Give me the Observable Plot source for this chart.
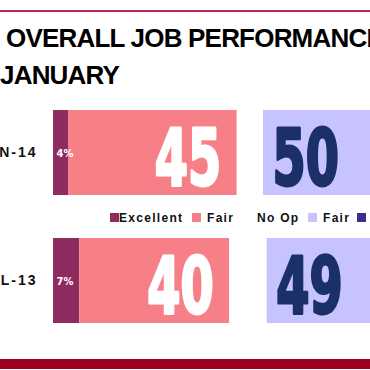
<!DOCTYPE html>
<html><head><meta charset="utf-8">
<script src="https://cdn.jsdelivr.net/npm/d3@7"></script>
<script src="https://cdn.jsdelivr.net/npm/@observablehq/plot@0.6"></script>
<style>
html,body{margin:0;padding:0;background:#fff;overflow:hidden;}
body{width:370px;height:370px;position:relative;font-family:"Liberation Sans",Arial,sans-serif;}
#header{position:relative;height:95px;}
#topline{position:absolute;left:0;top:10px;width:370px;height:2px;background:#b52c4a;}
.title{position:absolute;white-space:nowrap;font-weight:bold;font-size:26px;line-height:26px;letter-spacing:-0.8px;color:#000;}
#legend{position:absolute;left:0;top:0;width:370px;height:370px;pointer-events:none;}
.sw{position:absolute;top:213px;width:9px;height:9px;}
.lt{position:absolute;top:212px;white-space:nowrap;font-weight:bold;font-size:12px;letter-spacing:1.3px;line-height:12px;color:#111;}
#bottombar{position:absolute;left:0;top:359px;width:370px;height:10px;background:#a00020;}
#chart svg [aria-label="y-axis tick label"] text{letter-spacing:2px;}
</style></head><body>
<div id="header">
  <div id="topline"></div>
  <div class="title" style="left:6px;top:25px;">OVERALL JOB PERFORMANCE</div>
  <div class="title" style="left:0px;top:62px;">JANUARY</div>
</div>
<div id="chart"></div>
<div id="legend"></div>
<div id="bottombar"></div>
<script>
// ---- data ----
const periods = ["N-14", "L-13"];
const excellent = [4, 7];
const good = [45, 40];        // pink segment (labelled "Fair" in the legend)
const noOpinion = [7, 10];    // blank gap, estimated
const fair = [50, 49];        // lavender segment
const segmentKeys = ["Excellent", "Good", "No Op", "Fair"];
const segmentColors = ["#8e2b5f", "#f77f87", "#ffffff", "#c6c3ff"];
const legendLabels = ["Excellent", "Fair", "No Op", "Fair", ""];
const legendColors = ["#8e2b5f", "#f77f87", null, "#c6c3ff", "#3b2e8e"];

// ---- build stacked segments ----
const segs = [];
periods.forEach((p, i) => {
  const vals = [excellent[i], good[i], noOpinion[i], fair[i]];
  let acc = 0;
  vals.forEach((v, j) => {
    segs.push({period: p, key: segmentKeys[j], value: v, x1: acc, x2: acc + v});
    acc += v;
  });
});

const bigFont = "'Liberation Sans Narrow','DejaVu Sans Condensed','Arial Narrow',sans-serif";

const chart = Plot.plot({
  width: 428,
  height: 250,
  marginLeft: 53,
  marginRight: 0,
  marginTop: 14,
  marginBottom: 22,
  style: {maxWidth: "none", overflow: "hidden", display: "block", background: "white", fontFamily: "'Liberation Sans',Arial,sans-serif"},
  x: {domain: [0, 100], axis: null},
  y: {domain: periods, paddingInner: 0.336, paddingOuter: 0, axis: null},
  color: {domain: segmentKeys, range: segmentColors},
  marks: [
    Plot.barX(segs, {x1: "x1", x2: "x2", y: "period", fill: "key"}),
    Plot.axisY({tickSize: 0, tickPadding: 16, fontSize: 14, fontWeight: "bold", fill: "#111", label: null}),
    Plot.text(segs.filter(d => d.key === "Excellent"), {
      x: "x1", y: "period", text: d => d.value + "%", textAnchor: "start", dx: 3,
      fill: "white", fontSize: 11, fontWeight: "bold", fontFamily: bigFont
    }),
    Plot.text(segs.filter(d => d.key === "Good"), {
      x: "x2", y: "period", text: d => String(d.value), textAnchor: "end", dx: -16, dy: 7,
      fill: "white", stroke: "white", strokeWidth: 3, fontSize: 78, fontWeight: "bold", fontFamily: bigFont,
      className: "bignum"
    }),
    Plot.text(segs.filter(d => d.key === "Fair"), {
      x: "x1", y: "period", text: d => String(d.value), textAnchor: "start", dx: 9, dy: 7,
      fill: "#1b3068", stroke: "#1b3068", strokeWidth: 3, fontSize: 78, fontWeight: "bold", fontFamily: bigFont,
      className: "bignum"
    })
  ]
});
document.getElementById("chart").appendChild(chart);

// condense the big numbers horizontally (Impact-like look)
d3.select(chart).selectAll(".bignum text").each(function() {
  const el = d3.select(this);
  const tr = el.attr("transform");
  if (tr) {
    el.attr("transform", tr + " scale(0.68,1)");
  } else {
    const x = +el.attr("x") || 0, y = +el.attr("y") || 0;
    el.attr("x", null).attr("y", null).attr("transform", `translate(${x},${y}) scale(0.68,1)`);
  }
});

// ---- legend (between the bars) ----
const legendPos = [
  {sw: 110, tx: 119},
  {sw: 192, tx: 207},
  {sw: null, tx: 257},
  {sw: 308, tx: 323},
  {sw: 357, tx: null}
];
const lg = document.getElementById("legend");
legendLabels.forEach((lab, i) => {
  const pos = legendPos[i];
  if (legendColors[i] && pos.sw != null) {
    const s = document.createElement("div");
    s.className = "sw";
    s.style.left = pos.sw + "px";
    s.style.background = legendColors[i];
    lg.appendChild(s);
  }
  if (lab && pos.tx != null) {
    const t = document.createElement("div");
    t.className = "lt";
    t.style.left = pos.tx + "px";
    t.textContent = lab;
    lg.appendChild(t);
  }
});
</script>
</body></html>
